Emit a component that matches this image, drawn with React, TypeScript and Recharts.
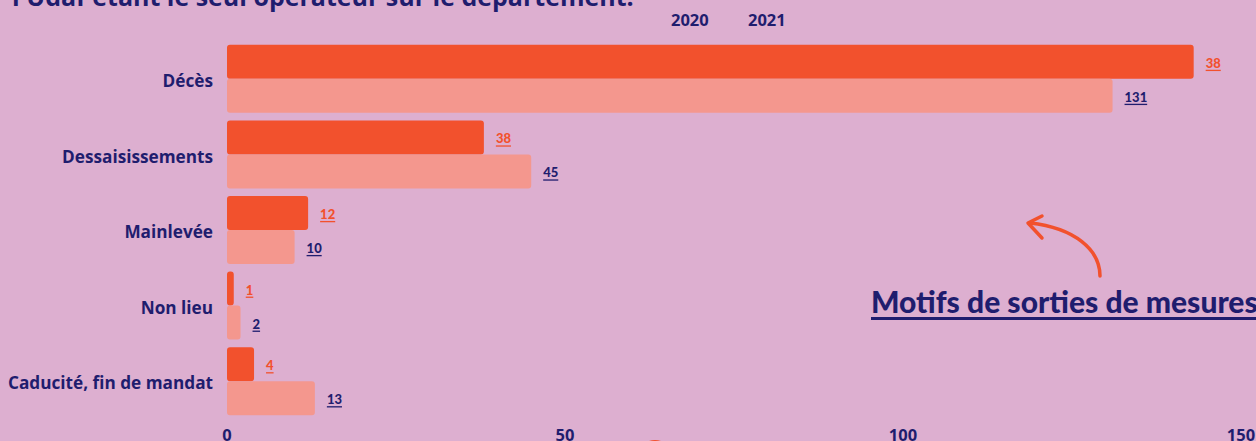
import React from "react";
import { BarChart, Bar, XAxis, YAxis, LabelList } from "recharts";

const categories = ["Décès", "Dessaisissements", "Mainlevée", "Non lieu", "Caducité, fin de mandat"];
const values2020 = [143, 38, 12, 1, 4];
const values2021 = [131, 45, 10, 2, 13];
// labels printed next to the bars (as shown in the source, Décès 2020 reads "38")
const labels2020 = ["38", "38", "12", "1", "4"];
const labels2021 = ["131", "45", "10", "2", "13"];
const seriesNames = ["2020", "2021"];
const xTicks = [0, 50, 100, 150];

const BG = "#DDAFD0";
const NAVY = "#1F1D6E";
const ORANGE = "#F2512D";
const SALMON = "#F4978E";

const rows = categories.map((name, i) => ({
  name,
  y2020: values2020[i],
  y2021: values2021[i],
  l2020: labels2020[i],
  l2021: labels2021[i],
}));

const makeLabel = (color: string, key: "l2020" | "l2021") => (props: any) => {
  const { x, y, width, height, index } = props;
  return (
    <text
      x={x + width + 12}
      y={y + height / 2 + 1}
      fill={color}
      fontSize={13}
      fontWeight={900}
      fontFamily="Lato, 'Open Sans', sans-serif"
      dominantBaseline="central"
      style={{ textDecoration: "underline" }}
    >
      {rows[index][key]}
    </text>
  );
};

const App: React.FunctionComponent = () => {
  return (
    <div
      style={{
        position: "absolute",
        left: 0,
        top: 0,
        width: 1256,
        height: 441,
        background: BG,
        overflow: "hidden",
        fontFamily: "'Open Sans', sans-serif",
      }}
    >
      <div
        style={{
          position: "absolute",
          left: 12,
          top: -21,
          fontSize: 25,
          fontWeight: 700,
          color: NAVY,
          whiteSpace: "nowrap",
        }}
      >
        l'Udaf étant le seul opérateur sur le département.
      </div>
      <div style={{ position: "absolute", top: 8, left: 671, fontSize: 16.5, fontWeight: 700, color: NAVY }}>
        {seriesNames[0]}
      </div>
      <div style={{ position: "absolute", top: 8, left: 748, fontSize: 16.5, fontWeight: 700, color: NAVY }}>
        {seriesNames[1]}
      </div>
      <div style={{ position: "absolute", left: 0, top: 0 }}>
        <BarChart
          width={1256}
          height={441}
          data={rows}
          layout="vertical"
          barCategoryGap="5%"
          barGap={0}
          margin={{ top: 41, right: 15, left: 0, bottom: 0 }}
        >
          <XAxis
            type="number"
            domain={[0, 150]}
            ticks={xTicks}
            axisLine={false}
            tickLine={false}
            height={22}
            tick={{ fill: NAVY, fontSize: 16.5, fontWeight: 700 }}
            tickMargin={4}
            interval={0}
          />
          <YAxis
            type="category"
            dataKey="name"
            width={227}
            axisLine={false}
            tickLine={false}
            tickMargin={8}
            tick={{ fill: NAVY, fontSize: 17.2, fontWeight: 700, dy: 2 }}
          />
          <Bar dataKey="y2020" name={seriesNames[0]} fill={ORANGE} radius={3} isAnimationActive={false}>
            <LabelList dataKey="l2020" content={makeLabel(ORANGE, "l2020")} />
          </Bar>
          <Bar dataKey="y2021" name={seriesNames[1]} fill={SALMON} radius={3} isAnimationActive={false}>
            <LabelList dataKey="l2021" content={makeLabel(NAVY, "l2021")} />
          </Bar>
        </BarChart>
      </div>
      <svg width={1256} height={441} style={{ position: "absolute", left: 0, top: 0, pointerEvents: "none" }}>
        <path d="M1100 276 C1100 250 1075 228 1030 223" stroke={ORANGE} strokeWidth={3.5} fill="none" strokeLinecap="round" />
        <path d="M1042 216 L1028 223 L1042 238" stroke={ORANGE} strokeWidth={3.5} fill="none" strokeLinecap="round" strokeLinejoin="round" />
        <circle cx={655} cy={458} r={18} fill={ORANGE} />
      </svg>
      <div
        style={{
          position: "absolute",
          left: 871,
          top: 283,
          fontSize: 30,
          fontWeight: 900,
          fontFamily: "Lato, sans-serif",
          color: NAVY,
          whiteSpace: "nowrap",
          textDecoration: "underline",
          textDecorationThickness: 3,
          textUnderlineOffset: 4,
        }}
      >
        Motifs de sorties de mesures
      </div>
    </div>
  );
};

export default App;
